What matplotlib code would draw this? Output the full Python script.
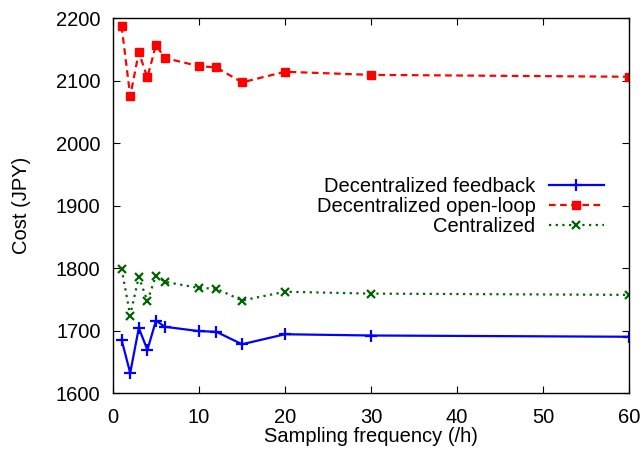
import matplotlib
matplotlib.use("Agg")
import matplotlib.pyplot as plt

plt.rcParams['font.family'] = ['Liberation Sans', 'DejaVu Sans']

x = [1, 2, 3, 4, 5, 6, 10, 12, 15, 20, 30, 60]
feedback = [1685, 1632, 1704, 1669, 1716, 1706, 1699, 1698, 1678, 1694, 1692, 1690]
openloop = [2187, 2075, 2145, 2105, 2157, 2136, 2123, 2121, 2097, 2114, 2109, 2106]
central = [1799, 1724, 1786, 1747, 1788, 1778, 1768, 1767, 1748, 1762, 1759, 1757]
labels = ['Decentralized feedback', 'Decentralized open-loop', 'Centralized']

FS = 14.5
fig = plt.figure(figsize=(6.44, 4.57), dpi=100)
ax = fig.add_axes([113/644, 1 - 393/457, (629-113)/644, (393-18)/457])

ax.plot(x, feedback, color='#0000ff', lw=1.6, marker='+', ms=8, mew=1.6, label=labels[0])
ax.plot(x, openloop, color='#ff0000', lw=1.6, ls=(0, (3, 2)), marker='s', ms=6, label=labels[1])
ax.plot(x, central, color='#006400', lw=1.6, ls=(0, (1, 2)), marker='x', ms=6, mew=1.6, label=labels[2])

ax.set_xlim(0, 60)
ax.set_ylim(1600, 2200)
ax.set_xticks(range(0, 61, 10))
ax.set_yticks(range(1600, 2201, 100))
ax.tick_params(direction='in', top=True, right=True, length=5, labelsize=FS)
ax.tick_params(axis='y', pad=9)
ax.tick_params(axis='x', pad=11)
for s in ax.spines.values():
    s.set_linewidth(1.0)
ax.set_xlabel('Sampling frequency (/h)', fontsize=FS, labelpad=0)
ax.set_ylabel('Cost (JPY)', fontsize=FS, labelpad=18)

leg = ax.legend(loc='upper right', bbox_to_anchor=(0.951, 0.576), frameon=False,
                markerfirst=False, fontsize=FS, handlelength=2.74, labelspacing=0.05,
                handletextpad=0.65, borderaxespad=0, borderpad=0)

fig.savefig('out.png', dpi=100)
